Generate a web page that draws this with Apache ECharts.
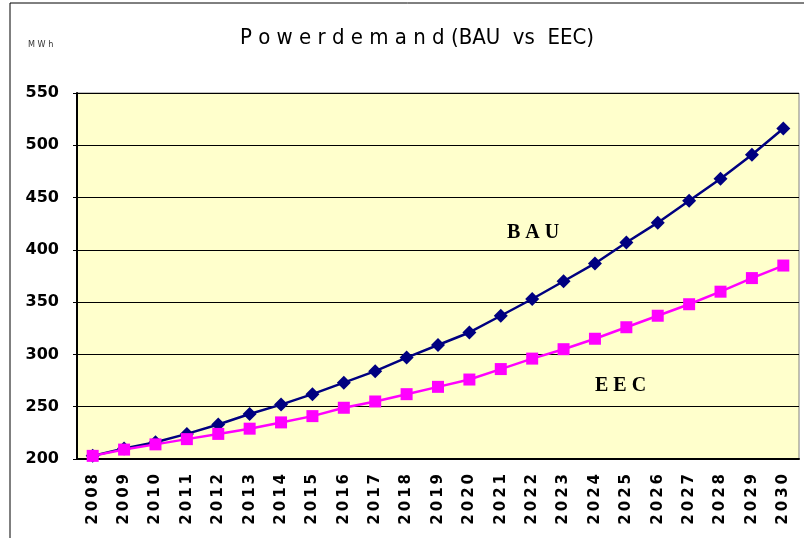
<!DOCTYPE html>
<html><head><meta charset="utf-8">
<script src="https://cdn.jsdelivr.net/npm/echarts@6/dist/echarts.min.js"></script>
<style>html,body{margin:0;padding:0;background:#fff}#c{width:804px;height:538px}</style>
</head><body><div id="c"></div>
<script>
const years = ['2008','2009','2010','2011','2012','2013','2014','2015','2016','2017','2018','2019','2020','2021','2022','2023','2024','2025','2026','2027','2028','2029','2030'];
const bau = [203,210,216,224,233,243,252,262,273,284,297,309,321,337,353,370,387,407,426,447,468,491,516];
const eec = [203,209,214,219,224,229,235,241,249,255,262,269,276,286,296,305,315,326,337,348,360,373,385];
const yTicks = [200,250,300,350,400,450,500,550];

const chart = echarts.init(document.getElementById('c'), null, {renderer:'canvas'});
chart.setOption({
  backgroundColor:'#fff',
  animation:false,
  title:{text:'P o w e r d e m a n d (BAU  vs  EEC)',left:412,textAlign:'center',top:22,
    textStyle:{fontFamily:'DejaVu Sans Condensed',fontWeight:'normal',fontSize:22,color:'#000'}},
  graphic:[
    {type:'rect',shape:{x:10,y:3,width:800,height:540},style:{fill:'none',stroke:'#000',lineWidth:1},silent:true},
    {type:'text',left:28,top:40,style:{text:'M W h',font:'9px DejaVu Sans Condensed',fill:'#333'}},
    {type:'text',left:507,top:223,style:{text:'B A U',font:'bold 20px Liberation Serif',fill:'#000'}},
    {type:'text',left:595,top:376,style:{text:'E E C',font:'bold 20px Liberation Serif',fill:'#000'}}
  ],
  grid:{left:77,right:5,top:93,bottom:79,backgroundColor:'#FFFFCC',show:true,borderColor:'#808080',borderWidth:1},
  xAxis:{type:'category',data:years,boundaryGap:true,
    axisLine:{lineStyle:{color:'#000',width:2}},
    axisTick:{inside:true,length:6,lineStyle:{color:'#000'}},
    axisLabel:{rotate:90,margin:15,color:'#000',fontFamily:'DejaVu Sans',fontWeight:'bold',fontSize:15,
      formatter:v=>v.split('').join('\u2009')}},
  yAxis:{type:'value',min:200,max:550,interval:50,
    axisLine:{show:true,lineStyle:{color:'#000',width:2}},
    axisTick:{show:true,length:4,lineStyle:{color:'#000'}},
    splitLine:{lineStyle:{color:'#000',width:1}},
    axisLabel:{color:'#000',fontFamily:'DejaVu Sans',fontWeight:'bold',fontSize:16,margin:18}},
  series:[
    {name:'BAU',type:'line',data:bau,symbol:'diamond',symbolSize:14,
      lineStyle:{color:'#000080',width:2.5},itemStyle:{color:'#000080'},z:3},
    {name:'EEC',type:'line',data:eec,symbol:'rect',symbolSize:12,
      lineStyle:{color:'#FF00FF',width:2.5},itemStyle:{color:'#FF00FF'},z:4}
  ]
});
</script></body></html>
